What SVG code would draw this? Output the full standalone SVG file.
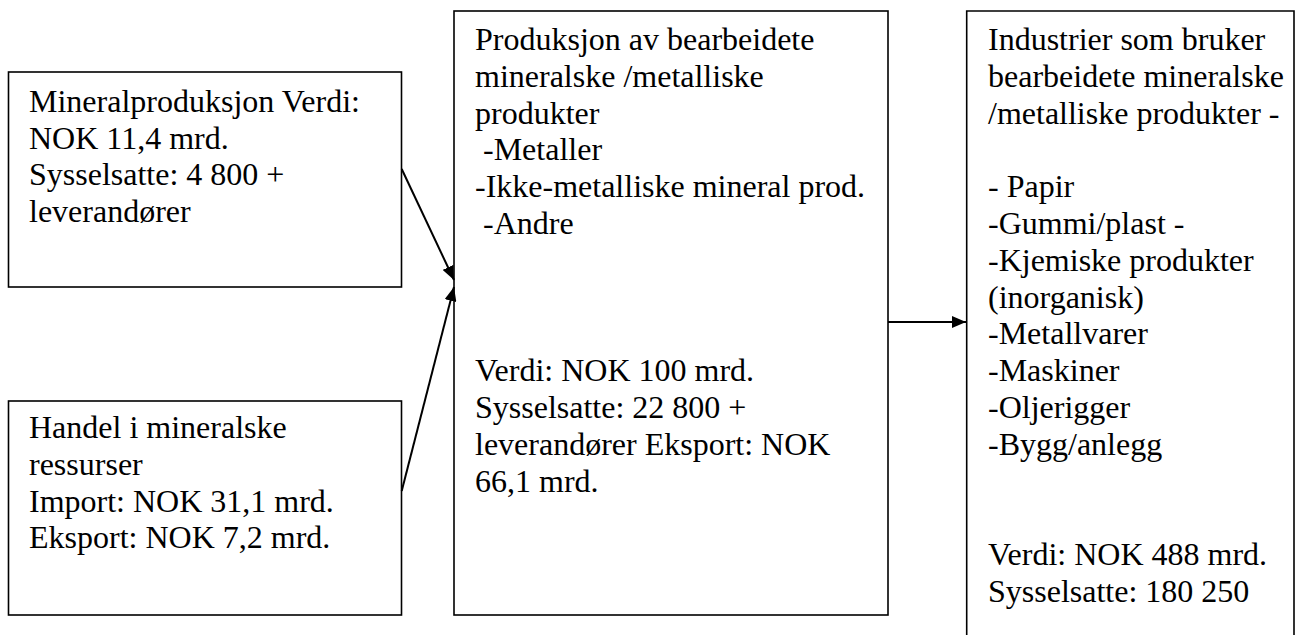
<svg xmlns="http://www.w3.org/2000/svg" width="1304" height="635" viewBox="0 0 1304 635">
<style>
.box{fill:#fff;stroke:#000;stroke-width:1.6}
.t{font-family:"Liberation Serif","Times New Roman",serif;font-size:32px;fill:#000}
.c{stroke:#000;stroke-width:2;fill:none}
</style>
<defs>
<marker id="ah" markerUnits="userSpaceOnUse" markerWidth="14" markerHeight="12" refX="14" refY="6" orient="auto">
<path d="M0,0 L14,6 L0,12 z" fill="#000"/>
</marker>
</defs>
<rect width="1304" height="635" fill="#fff"/>
<g id="node-mineralproduksjon">
<rect class="box" x="8.5" y="72" width="393" height="215"/>
<text class="t" x="29" y="111.7">Mineralproduksjon Verdi:</text>
<text class="t" x="29" y="148.5">NOK 11,4 mrd.</text>
<text class="t" x="29" y="185.3">Sysselsatte: 4 800 +</text>
<text class="t" x="29" y="222.1">leverandører</text>
</g>
<g id="node-handel">
<rect class="box" x="8.5" y="401" width="393" height="214"/>
<text class="t" x="29" y="438">Handel i mineralske</text>
<text class="t" x="29" y="474.8">ressurser</text>
<text class="t" x="29" y="511.6">Import: NOK 31,1 mrd.</text>
<text class="t" x="29" y="548.4">Eksport: NOK 7,2 mrd.</text>
</g>
<g id="node-produksjon">
<rect class="box" x="454" y="11" width="434" height="604"/>
<text class="t" x="475" y="50">Produksjon av bearbeidete</text>
<text class="t" x="475" y="86.8">mineralske /metalliske</text>
<text class="t" x="475" y="123.6">produkter</text>
<text class="t" x="475" y="160.4" xml:space="preserve"> -Metaller</text>
<text class="t" x="475" y="197.2">-Ikke-metalliske mineral prod.</text>
<text class="t" x="475" y="234" xml:space="preserve"> -Andre</text>
<text class="t" x="475" y="381.2">Verdi: NOK 100 mrd.</text>
<text class="t" x="475" y="418">Sysselsatte: 22 800 +</text>
<text class="t" x="475" y="454.8">leverandører Eksport: NOK</text>
<text class="t" x="475" y="491.6">66,1 mrd.</text>
</g>
<g id="node-industrier">
<path class="box" d="M966.7,640 L966.7,11 L1294,11 L1294,640"/>
<text class="t" x="988" y="50">Industrier som bruker</text>
<text class="t" x="988" y="86.8">bearbeidete mineralske</text>
<text class="t" x="988" y="123.6">/metalliske produkter -</text>
<text class="t" x="988" y="197.2">- Papir</text>
<text class="t" x="988" y="234">-Gummi/plast -</text>
<text class="t" x="988" y="270.8">-Kjemiske produkter</text>
<text class="t" x="988" y="307.6">(inorganisk)</text>
<text class="t" x="988" y="344.4">-Metallvarer</text>
<text class="t" x="988" y="381.2">-Maskiner</text>
<text class="t" x="988" y="418">-Oljerigger</text>
<text class="t" x="988" y="454.8">-Bygg/anlegg</text>
<text class="t" x="988" y="565.2">Verdi: NOK 488 mrd.</text>
<text class="t" x="988" y="602">Sysselsatte: 180 250</text>
</g>
<g id="connectors">
<line class="c" x1="401.7" y1="169" x2="454" y2="280" marker-end="url(#ah)"/>
<line class="c" x1="401.7" y1="491" x2="454" y2="287" marker-end="url(#ah)"/>
<line class="c" x1="888" y1="322" x2="966" y2="322" marker-end="url(#ah)"/>
</g>
</svg>
